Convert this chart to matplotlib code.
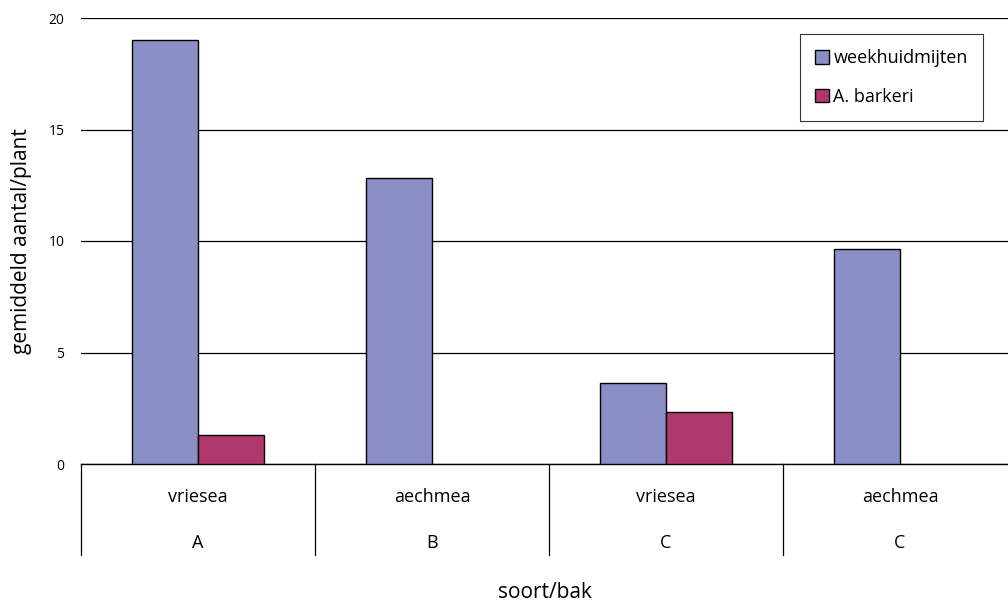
import matplotlib
matplotlib.use("Agg")
import matplotlib.pyplot as plt
import matplotlib.transforms as mtransforms
import numpy as np

plt.rcParams['font.family'] = ['Open Sans', 'DejaVu Sans']

soort = ["vriesea", "aechmea", "vriesea", "aechmea"]
bak = ["A", "B", "C", "C"]
weekhuidmijten = [19.0, 12.83, 3.63, 9.64]
barkeri = [1.3, 0.0, 2.33, 0.0]
series_names = ["weekhuidmijten", "A. barkeri"]
yticks = [0, 5, 10, 15, 20]

fig = plt.figure(figsize=(10.08, 6.07), dpi=100)
ax = fig.add_axes([81/1008, 1 - 464/607, (1017 - 81)/1008, (464 - 18)/607])

x = np.arange(len(soort))
w = 0.282
ax.bar(x - w/2, weekhuidmijten, width=w, color="#8B8FC6", edgecolor="black", linewidth=1.0,
       label=series_names[0], zorder=3)
bars2 = ax.bar(x + w/2, barkeri, width=w, color="#B0386E", edgecolor="black", linewidth=1.0,
               label=series_names[1], zorder=3)
for b, v in zip(bars2, barkeri):
    if v == 0:
        b.set_visible(False)

ax.set_xlim(-0.5, len(soort) - 0.5)
ax.set_ylim(0, 20)
ax.set_yticks(yticks)
ax.set_yticklabels([str(t) for t in yticks], fontsize=10)
ax.tick_params(axis='y', length=0, pad=12)
ax.tick_params(axis='x', bottom=False, labelbottom=False)
for s in ["left", "right", "top"]:
    ax.spines[s].set_visible(False)
ax.spines["bottom"].set_color("black")
ax.spines["bottom"].set_linewidth(1.0)
ax.yaxis.grid(True, color="black", linewidth=0.9, zorder=0)
ax.set_axisbelow(True)

trans = mtransforms.blended_transform_factory(ax.transData, ax.transAxes)
# separators
for i in range(len(soort) + 1):
    ax.plot([i - 0.5, i - 0.5], [0, -91/446], transform=trans, color="black",
            linewidth=0.9, clip_on=False)
for i in range(len(soort)):
    ax.text(i, -33/446, soort[i], transform=trans, ha="center", va="center", fontsize=13)
    ax.text(i, -79/446, bak[i], transform=trans, ha="center", va="center", fontsize=13)

fig.text(545/1008, 1 - 592/607, "soort/bak", ha="center", va="center", fontsize=15)
fig.text(22/1008, 1 - 241/607, "gemiddeld aantal/plant", ha="center", va="center",
         rotation=90, fontsize=15)

leg = fig.legend(loc="upper left", bbox_to_anchor=(800/1008, 1 - 34/607), frameon=True,
                 fancybox=False, edgecolor="black", fontsize=13, handlelength=0.75,
                 handleheight=0.75, handletextpad=0.25, labelspacing=1.15,
                 borderpad=0.85, borderaxespad=0)
leg.get_frame().set_linewidth(0.8)

fig.savefig("out.png", dpi=100)
